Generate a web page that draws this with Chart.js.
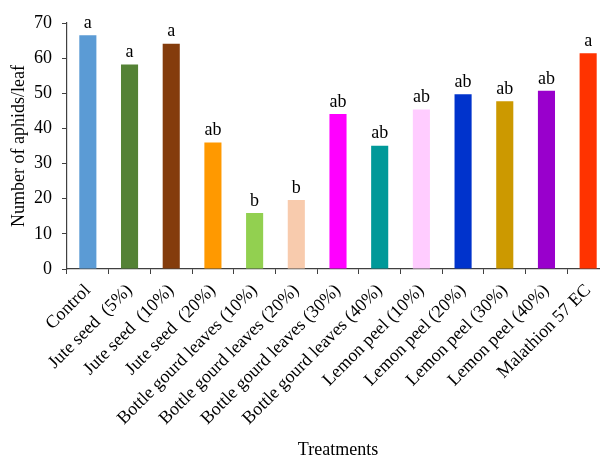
<!DOCTYPE html>
<html>
<head>
<meta charset="utf-8">
<script src="https://cdn.jsdelivr.net/npm/chart.js@4/dist/chart.umd.min.js"></script>
<style>
  html, body { margin: 0; padding: 0; background: #fff; overflow: hidden; }
  #wrap { width: 612px; height: 458px; }
</style>
</head>
<body>
<div id="wrap"><canvas id="c" width="612" height="458"></canvas></div>
<script>
// Treatments and mean aphid counts per leaf
const treatments = [
  'Control', 'Jute seed  (5%)', 'Jute seed  (10%)', 'Jute seed  (20%)',
  'Bottle gourd leaves (10%)', 'Bottle gourd leaves (20%)',
  'Bottle gourd leaves (30%)', 'Bottle gourd leaves (40%)',
  'Lemon peel (10%)', 'Lemon peel (20%)', 'Lemon peel (30%)',
  'Lemon peel (40%)', 'Malathion 57 EC'
];
const aphidsPerLeaf = [66.5, 58.2, 64.1, 36.0, 15.9, 19.6, 44.1, 35.1, 45.4, 49.7, 47.7, 50.7, 61.4];
const significance = ['a', 'a', 'a', 'ab', 'b', 'b', 'ab', 'ab', 'ab', 'ab', 'ab', 'ab', 'a'];
const barColors = [
  '#5B9BD5', '#548235', '#843C0C', '#FF9900', '#92D050', '#F8CBAD',
  '#FF00FF', '#009999', '#FFCCFF', '#0033CC', '#CC9900', '#9900CC', '#FF3300'
];
const yTicks = [0, 10, 20, 30, 40, 50, 60, 70];

const serif = '"Liberation Serif", "Times New Roman", serif';
const axisColor = '#404040';

// Letters of significance drawn above each bar
const letterPlugin = {
  id: 'letters',
  afterDatasetsDraw(chart) {
    const ctx = chart.ctx;
    const meta = chart.getDatasetMeta(0);
    ctx.save();
    ctx.font = '18px ' + serif;
    ctx.fillStyle = '#000';
    ctx.textAlign = 'center';
    ctx.textBaseline = 'bottom';
    meta.data.forEach((bar, i) => {
      ctx.fillText(significance[i], bar.x, bar.y - 3);
    });
    ctx.restore();
  }
};

new Chart(document.getElementById('c'), {
  type: 'bar',
  data: {
    labels: treatments,
    datasets: [{
      data: aphidsPerLeaf,
      backgroundColor: barColors,
      borderWidth: 0,
      barPercentage: 0.41,
      categoryPercentage: 1.0
    }]
  },
  options: {
    responsive: false,
    animation: false,
    layout: { padding: { top: 23, right: 3, left: 8, bottom: 0 } },
    plugins: { legend: { display: false }, tooltip: { enabled: false } },
    scales: {
      x: {
        offset: true,
        grid: {
          offset: true,
          drawOnChartArea: false,
          drawTicks: true,
          tickLength: 5,
          color: axisColor
        },
        border: { color: axisColor, width: 1.2 },
        ticks: {
          color: '#000',
          font: { family: serif, size: 18 },
          maxRotation: 45,
          minRotation: 45,
          autoSkip: false,
          padding: 6
        },
        title: {
          display: true,
          text: 'Treatments',
          color: '#000',
          font: { family: serif, size: 18 },
          padding: { top: 0, bottom: -3 }
        },
        afterFit(scale) { scale.height = 189; }
      },
      y: {
        min: 0,
        max: 70,
        afterBuildTicks(scale) { scale.ticks = yTicks.map(v => ({ value: v })); },
        grid: {
          drawOnChartArea: false,
          drawTicks: true,
          tickLength: 5,
          color: axisColor
        },
        border: { color: axisColor, width: 1.2 },
        ticks: {
          color: '#000',
          font: { family: serif, size: 18 },
          padding: 10
        },
        title: {
          display: true,
          text: 'Number of aphids/leaf',
          color: '#000',
          font: { family: serif, size: 18 },
          padding: { top: 0, bottom: 2 }
        },
        afterFit(scale) { scale.width = 59; }
      }
    }
  },
  plugins: [letterPlugin]
});
</script>
</body>
</html>
